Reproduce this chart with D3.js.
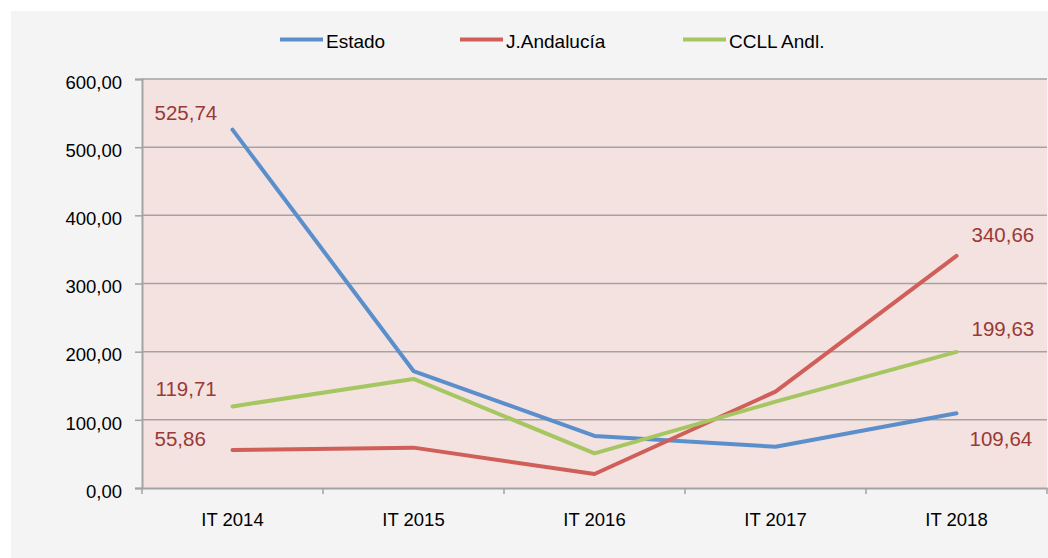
<!DOCTYPE html>
<html>
<head>
<meta charset="utf-8">
<script src="https://cdn.jsdelivr.net/npm/d3@7"></script>
<style>
html,body{margin:0;padding:0;background:#ffffff;}
svg{display:block;font-family:"Liberation Sans",Arial,sans-serif;}
</style>
</head>
<body>
<svg id="chart" width="1048" height="558"></svg>
<script>
const categories = ["IT 2014", "IT 2015", "IT 2016", "IT 2017", "IT 2018"];
const seriesNames = ["Estado", "J.Andalucía", "CCLL Andl."];
const estado = [525.74, 171.6, 76.3, 60.6, 109.64];
const andalucia = [55.86, 59.2, 20.5, 141.3, 340.66];
const ccll = [119.71, 160.0, 50.9, 126.6, 199.63];
const yTicks = [0, 100, 200, 300, 400, 500, 600];
const dataLabels = [
  {series: 0, index: 0, text: "525,74"},
  {series: 2, index: 0, text: "119,71"},
  {series: 1, index: 0, text: "55,86"},
  {series: 1, index: 4, text: "340,66"},
  {series: 2, index: 4, text: "199,63"},
  {series: 0, index: 4, text: "109,64"}
];

const colors = ["#5B8FCB", "#CF5F58", "#A5C660"];
const allSeries = [estado, andalucia, ccll];

const svg = d3.select("#chart");
svg.append("rect").attr("x", 11).attr("y", 11).attr("width", 1037).attr("height", 547).attr("fill", "#f4f4f4");

const plot = {left: 142, top: 79, right: 1047, bottom: 488};
const x = d3.scaleBand().domain(categories).range([plot.left, plot.right]);
const y = d3.scaleLinear().domain([0, 600]).range([plot.bottom, plot.top]);

svg.append("rect").attr("x", plot.left).attr("y", plot.top)
  .attr("width", plot.right - plot.left).attr("height", plot.bottom - plot.top)
  .attr("fill", "#f4e2e1");

// grid lines
svg.append("g").selectAll("line").data(yTicks.filter(d => d > 0)).join("line")
  .attr("x1", plot.left).attr("x2", plot.right)
  .attr("y1", d => y(d)).attr("y2", d => y(d))
  .attr("stroke", "#a3a3a3").attr("stroke-width", 1.5);

// y axis
const yAxis = d3.axisLeft(y).tickValues(yTicks).tickSize(7).tickPadding(13)
  .tickFormat(d => d3.format(".2f")(d).replace(".", ","));
const gy = svg.append("g").attr("transform", `translate(${plot.left},0)`).call(yAxis);
gy.select(".domain").attr("stroke", "#a3a3a3").attr("stroke-width", 2);
gy.selectAll(".tick line").attr("stroke", "#a3a3a3").attr("stroke-width", 1.5);
gy.selectAll(".tick text").attr("font-size", 18.5).attr("fill", "#000").attr("dy", "0.5em")
  .attr("font-family", "Liberation Sans, Arial, sans-serif");

// x axis
const xAxis = d3.axisBottom(x).tickSize(0).tickPadding(0);
const gx = svg.append("g").attr("transform", `translate(0,${plot.bottom})`).call(xAxis);
gx.select(".domain").attr("stroke", "#a3a3a3").attr("stroke-width", 2);
gx.selectAll(".tick text").attr("font-size", 18.5).attr("fill", "#000")
  .attr("y", 38).attr("dy", 0).attr("font-family", "Liberation Sans, Arial, sans-serif");
// category boundary ticks
const bounds = categories.map(c => x(c)).concat([x(categories[categories.length - 1]) + x.bandwidth()]);
svg.append("g").selectAll("line").data(bounds).join("line")
  .attr("x1", d => d).attr("x2", d => d)
  .attr("y1", plot.bottom).attr("y2", plot.bottom + 6)
  .attr("stroke", "#a3a3a3").attr("stroke-width", 1.5);

// lines
const line = d3.line().x((d, i) => x(categories[i]) + x.bandwidth() / 2).y(d => y(d));
allSeries.forEach((s, k) => {
  svg.append("path").datum(s).attr("d", line)
    .attr("fill", "none").attr("stroke", colors[k]).attr("stroke-width", 4)
    .attr("stroke-linejoin", "round").attr("stroke-linecap", "round");
});

// data labels
const labelOffset = {
  "0-0": [-78, -10], "2-0": [-77, -10], "1-0": [-78, -4],
  "1-4": [15, -14], "2-4": [15, -16], "0-4": [13, 33]
};
svg.append("g").selectAll("text").data(dataLabels).join("text")
  .attr("x", d => x(categories[d.index]) + x.bandwidth() / 2 + labelOffset[d.series + "-" + d.index][0])
  .attr("y", d => y(allSeries[d.series][d.index]) + labelOffset[d.series + "-" + d.index][1])
  .attr("font-size", 20.5).attr("fill", "#993a37")
  .text(d => d.text);

// legend
const legendX = [280, 460, 683];
const lg = svg.append("g");
seriesNames.forEach((n, k) => {
  lg.append("line").attr("x1", legendX[k]).attr("x2", legendX[k] + 43)
    .attr("y1", 39.5).attr("y2", 39.5).attr("stroke", colors[k]).attr("stroke-width", 4);
  lg.append("text").attr("x", legendX[k] + 46).attr("y", 48)
    .attr("font-size", 19).attr("fill", "#000").text(n);
});
</script>
</body>
</html>
